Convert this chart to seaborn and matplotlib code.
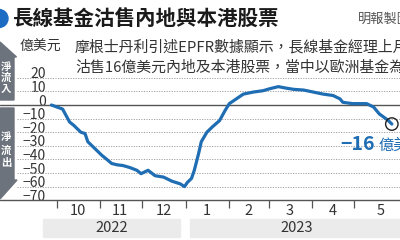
import matplotlib
matplotlib.use("Agg")
import matplotlib.pyplot as plt
from matplotlib.transforms import ScaledTranslation
from matplotlib.patches import Polygon, Rectangle, Circle
import seaborn as sns
import pandas as pd

# ---------------- data ----------------
dates = ["2022-09-27", "2022-10-05", "2022-10-10", "2022-10-13", "2022-10-18",
         "2022-10-21", "2022-10-23", "2022-10-28", "2022-11-02", "2022-11-05",
         "2022-11-09", "2022-11-13", "2022-11-17", "2022-11-22", "2022-11-27",
         "2022-11-30", "2022-12-05", "2022-12-10", "2022-12-16", "2022-12-22",
         "2022-12-28", "2022-12-31", "2023-01-02", "2023-01-05", "2023-01-07",
         "2023-01-10", "2023-01-12", "2023-01-16", "2023-01-20", "2023-01-25",
         "2023-01-29", "2023-02-01", "2023-02-06", "2023-02-11", "2023-02-18",
         "2023-02-25", "2023-03-02", "2023-03-08", "2023-03-13", "2023-03-19",
         "2023-03-26", "2023-04-02", "2023-04-09", "2023-04-16", "2023-04-21",
         "2023-04-23", "2023-04-30", "2023-05-10", "2023-05-15", "2023-05-19",
         "2023-05-25", "2023-05-28"]
values = [0, -3, -12.5, -15, -20,
          -21, -27, -32, -37, -39.5,
          -43, -44, -44.5, -46, -48,
          -50.5, -48, -52, -53, -56,
          -58, -60, -57, -54, -48,
          -36, -27, -20, -16, -11.5,
          -4, 1, 4.5, 8, 9.5,
          10.5, 12, 13.5, 12.5, 11.5,
          11, 9.5, 8, 7, 4.5,
          2, 1, 1, -1.5, -6.5,
          -11, -14]

y_ticks = [20, 10, 0, -10, -20, -30, -40, -50, -60, -70]
y_tick_labels = ["20", "10", "0", "−10", "−20", "−30", "−40", "−50", "−60", "−70"]
month_starts = ["2022-10-01", "2022-11-01", "2022-12-01", "2023-01-01",
                "2023-02-01", "2023-03-01", "2023-04-01", "2023-05-01"]
month_label_dates = ["2022-10-16", "2022-11-15", "2022-12-16", "2023-01-16",
                     "2023-02-15", "2023-03-16", "2023-04-16", "2023-05-20"]
month_labels = ["10", "11", "12", "1", "2", "3", "4", "5"]
years = ["2022", "2023"]

title = "長線基金沽售內地與本港股票"
source = "明報製圖"
unit = "億美元"
note1 = "摩根士丹利引述EPFR數據顯示，長線基金經理上月"
note2 = "沽售16億美元內地及本港股票，當中以歐洲基金為主"
end_value_label = "−16"
end_unit = "億美元"
arrow_up_text = "淨\n流\n入"
arrow_down_text = "淨\n流\n出"

# ---------------- style ----------------
sns.set_theme(style="white")
plt.rcParams['font.family'] = ['Noto Sans CJK TC', 'DejaVu Sans']

BLUE = "#1f6db3"
DARK = "#333333"
GREY_ARROW = "#6d737c"

W, H = 400, 240
fig = plt.figure(figsize=(4, 2.4), dpi=100)
fig.patch.set_facecolor("white")


def fx(px):
    return px / W


def fy(py):
    return 1 - py / H


# axes: 0 at y=105px, 1.36 px per unit
zero_px, k = 105.0, 1.36
ytop, ybot = 30, -70
top_px = zero_px - ytop * k
bot_px = zero_px - ybot * k
ax = fig.add_axes([0, fy(bot_px), 1, (bot_px - top_px) / H])
ax.set_facecolor("none")

df = pd.DataFrame({"date": pd.to_datetime(dates), "value": values})

base = pd.Timestamp("2022-10-01")
ppd = (354 - 57) / 212.0
xmin = base - pd.Timedelta(days=57 / ppd)
xmax = base + pd.Timedelta(days=(W - 57) / ppd)

# gridlines
for v in y_ticks:
    if v in (0, -70):
        continue
    ax.axhline(v, xmin=17 / W, xmax=1, color="#a0a0a0", lw=0.7,
               ls=(0, (1.2, 1.4)), zorder=1)
ax.axhline(0, color="#555555", lw=1.0, zorder=1)
ax.axhline(-70, color="#555555", lw=1.0, zorder=1, clip_on=False)

sns.lineplot(data=df, x="date", y="value", ax=ax, color=BLUE, lw=2.3,
             zorder=3, solid_capstyle="round", solid_joinstyle="round")

ax.scatter([df["date"].iloc[-1]], [df["value"].iloc[-1]], s=80,
           facecolors="none", edgecolors="#222222", linewidths=1.0, zorder=4)

ax.set_xlim(xmin, xmax)
ax.set_ylim(ybot, ytop)
for s in ax.spines.values():
    s.set_visible(False)
ax.set_xlabel("")
ax.set_ylabel("")

# y ticks (labels inside, above their gridlines)
ax.set_yticks(y_ticks)
ax.set_yticklabels(y_tick_labels)
ax.tick_params(axis="y", length=0, pad=-(46 * 72 / 100), labelsize=10,
               labelcolor=DARK, left=False)
for lbl in ax.get_yticklabels():
    lbl.set_transform(lbl.get_transform() +
                      ScaledTranslation(0, 5 / 100, fig.dpi_scale_trans))

# x ticks
ax.set_xticks(pd.to_datetime(month_starts))
ax.set_xticklabels([])
ax.set_xticks(pd.to_datetime(month_label_dates), minor=True)
ax.set_xticklabels(month_labels, minor=True)
ax.tick_params(axis="x", which="major", bottom=True, direction="out",
               length=6, width=0.9, color="#555555")
ax.tick_params(axis="x", which="minor", bottom=True, length=0, pad=3,
               labelsize=10.5, labelcolor=DARK)

# year bands
fig.patches.append(Rectangle((fx(43), fy(237)), fx(137), 18 / H,
                             transform=fig.transFigure, color="#ebebeb",
                             zorder=0))
fig.patches.append(Rectangle((fx(190), fy(237)), fx(215), 18 / H,
                             transform=fig.transFigure, color="#ebebeb",
                             zorder=0))
fig.text(fx(112), fy(228), years[0], ha="center", va="center",
         fontsize=10.5, color=DARK)
fig.text(fx(297), fy(228), years[1], ha="center", va="center",
         fontsize=10.5, color=DARK)

# side arrows
up_pts = [(0, 42), (16.5, 57), (14, 57), (14, 100), (0, 100)]
down_pts = [(0, 108), (14, 108), (14, 180), (17, 180), (0, 199)]
for pts in (up_pts, down_pts):
    fig.patches.append(Polygon([(fx(a), fy(b)) for a, b in pts], closed=True,
                               transform=fig.transFigure, color=GREY_ARROW,
                               zorder=0))
fig.text(fx(6), fy(78), arrow_up_text, ha="center", va="center",
         fontsize=7.5, color="white", linespacing=1.05, weight="bold")
fig.text(fx(6), fy(150), arrow_down_text, ha="center", va="center",
         fontsize=7.5, color="white", linespacing=1.3, weight="bold")

# title block
fig.patches.append(Circle((-0.01, (H - 18.5) / 100), 0.09,
                          transform=fig.dpi_scale_trans, color="#1c6cc4"))
fig.text(fx(12), fy(18), title, ha="left", va="center", fontsize=14.8,
         weight="bold", color="#1a1a1a")
fig.text(fx(358), fy(19), source, ha="left", va="center", fontsize=9.5,
         color="#555555")

# unit and note
fig.text(fx(20), fy(47), unit, ha="left", va="center", fontsize=10,
         color=DARK)
fig.text(fx(75), fy(47), note1, ha="left", va="center", fontsize=10.75,
         color=DARK)
fig.text(fx(75), fy(68), note2, ha="left", va="center", fontsize=10.75,
         color=DARK)

# end label
fig.text(fx(340), fy(145), end_value_label, ha="left", va="center",
         fontsize=14, weight="bold", color=BLUE)
fig.text(fx(379), fy(145), end_unit, ha="left", va="center",
         fontsize=11, color=BLUE)

fig.savefig("out.png", dpi=100)
